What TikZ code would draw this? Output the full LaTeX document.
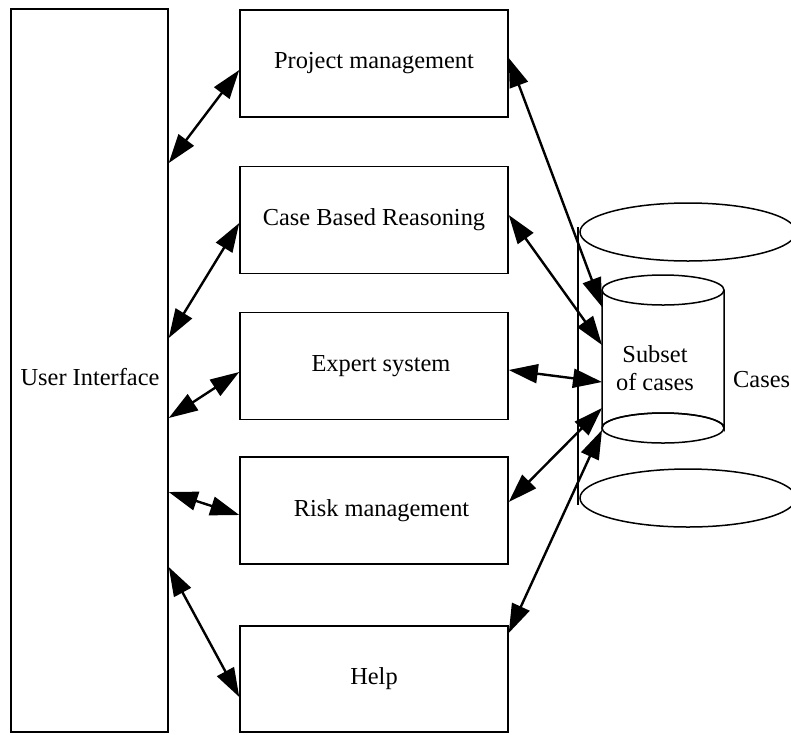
\documentclass[tikz,border=0pt]{standalone}
\usepackage{fontspec}
\setmainfont{Liberation Serif}
\usetikzlibrary{arrows.meta}
\begin{document}
\begin{tikzpicture}[x=1pt,y=-1pt,
  box/.style={draw,line width=1.5pt,minimum width=268pt,minimum height=107pt,inner sep=0pt,
    font=\fontsize{24.4}{28}\selectfont},
  link/.style={line width=2.4pt,{Triangle[length=29pt,width=19pt]}-{Triangle[length=29pt,width=19pt]}},
  shapeline/.style={line width=1.5pt}]
\useasboundingbox (0,0) rectangle (791,734);
\clip (0,0) rectangle (791,734);
% user interface
\node[box,minimum width=157pt,minimum height=723pt] (ui) at (89.5,370.5) {};
\node[font=\fontsize{24.4}{28}\selectfont] (uit) at (90,377) {User Interface};
% modules
\node[box] (pm) at (374,63.5) {Project management};
\node[box] (cbr) at (374,220) {Case Based Reasoning};
\node[box] (es) at (374,366) {\hspace*{14pt}Expert system};
\node[box] (rm) at (374,510.5) {\hspace*{15pt}Risk management};
\node[box,minimum height=106pt] (help) at (374,679) {Help};
% cases database
\draw[shapeline] (688,232) ellipse [x radius=108, y radius=29];
\draw[shapeline] (688,498) ellipse [x radius=108, y radius=29];
\draw[shapeline] (578,227) -- (578,505);
\node[font=\fontsize{24.4}{28}\selectfont,anchor=west,inner sep=0pt] (cases) at (733,380) {Cases};
% subset cylinder
\draw[shapeline,fill=white] (602,290) -- (602,428) arc[start angle=180,end angle=360,x radius=61,y radius=15] -- (724,290);
\draw[shapeline] (663,428) ellipse [x radius=61, y radius=15];
\draw[shapeline,fill=white] (663,290) ellipse [x radius=61, y radius=15];
\node[font=\fontsize{24.4}{28}\selectfont,align=center] (sub) at (655,368) {Subset\\of cases};
\coordinate (c1) at (602,307);
\coordinate (c2) at (602,345);
\coordinate (c3) at (602,382);
\coordinate (c4) at (602,408);
\coordinate (c5) at (602,430);
% left connectors
\draw[link] ([yshift=207.5pt]ui.east) -- ([yshift=-6.5pt]pm.west);
\draw[link] ([yshift=32.5pt]ui.east) -- ([yshift=-3pt]cbr.west);
\draw[link] ([yshift=-47.5pt]ui.east) -- ([yshift=-6pt]es.west);
\draw[link] ([yshift=-121.5pt]ui.east) -- ([yshift=-4.5pt]rm.west);
\draw[link] ([yshift=-196.5pt]ui.east) -- ([yshift=-18pt]help.west);
% right connectors
\draw[link] ([yshift=5.5pt]pm.east) -- (c1);
\draw[link] ([yshift=5pt]cbr.east) -- (c2);
\draw[link] ([yshift=-4pt]es.east) -- (c3);
\draw[link] ([yshift=8.5pt]rm.east) -- (c4);
\draw[link] ([yshift=46pt]help.east) -- (c5);
\end{tikzpicture}
\end{document}
